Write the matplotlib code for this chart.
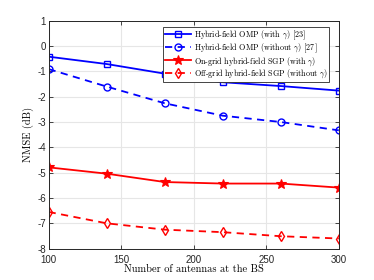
import matplotlib
matplotlib.use("Agg")
import matplotlib.pyplot as plt

antennas = [100, 140, 180, 220, 260, 300]
omp_with = [-0.42, -0.71, -1.09, -1.43, -1.58, -1.76]
omp_without = [-0.91, -1.60, -2.26, -2.75, -3.00, -3.33]
sgp_on_grid = [-4.79, -5.04, -5.37, -5.43, -5.43, -5.59]
sgp_off_grid = [-6.55, -7.00, -7.25, -7.35, -7.51, -7.60]

labels = [
    r"Hybrid-field OMP (with $\gamma$) [23]",
    r"Hybrid-field OMP (without $\gamma$) [27]",
    r"On-grid hybrid-field SGP (with $\gamma$)",
    r"Off-grid hybrid-field SGP (without $\gamma$)",
]
xticks = [100, 150, 200, 250, 300]
yticks = list(range(-8, 2))

plt.rcParams['mathtext.fontset'] = 'cm'
plt.rcParams['axes.unicode_minus'] = False

fig = plt.figure(figsize=(3.74, 2.80), dpi=100)
ax = fig.add_axes([0.130, 0.112, 0.776, 0.814])

lw = 1.3
ax.plot(antennas, omp_with, '-', color='blue', lw=lw, marker='s', ms=4.5,
        mfc='none', mew=1.0, label=labels[0])
ax.plot(antennas, omp_without, '--', color='blue', lw=lw, marker='o', ms=5,
        mfc='none', mew=1.0, label=labels[1], dashes=(4, 3))
ax.plot(antennas, sgp_on_grid, '-', color='red', lw=lw, marker='*', ms=7,
        mfc='red', mew=0.8, label=labels[2])
ax.plot(antennas, sgp_off_grid, '--', color='red', lw=lw, marker='d', ms=5,
        mfc='none', mew=1.0, label=labels[3], dashes=(4, 3))

ax.set_xlim(100, 300)
ax.set_ylim(-8, 1)
ax.set_xticks(xticks)
ax.set_yticks(yticks)
ax.grid(True, color='#e6e6e6', lw=0.8)
ax.set_axisbelow(True)
ax.tick_params(direction='in', length=3, width=0.6, colors='#262626',
               labelsize=7, top=True, right=True, pad=2)
ax.tick_params(axis='x', pad=4.5)
for lab in ax.get_xticklabels() + ax.get_yticklabels():
    lab.set_fontfamily('Liberation Sans')
for s in ax.spines.values():
    s.set_color('#262626')
    s.set_linewidth(0.7)

ax.set_xlabel("Number of antennas at the BS", family='cmr10', fontsize=7.5, labelpad=0)
ax.set_ylabel("NMSE (dB)", family='cmr10', fontsize=7.5, labelpad=2)

leg = ax.legend(loc='upper right', prop={'family': 'cmr10', 'size': 5.8},
                fancybox=False, edgecolor='#262626', framealpha=1,
                handlelength=3.3, handletextpad=0.3, borderpad=0.15,
                labelspacing=0.0, borderaxespad=0.5,
                bbox_to_anchor=(0.98, 0.99))
leg.get_frame().set_linewidth(0.6)

fig.savefig("out.png", dpi=100)
